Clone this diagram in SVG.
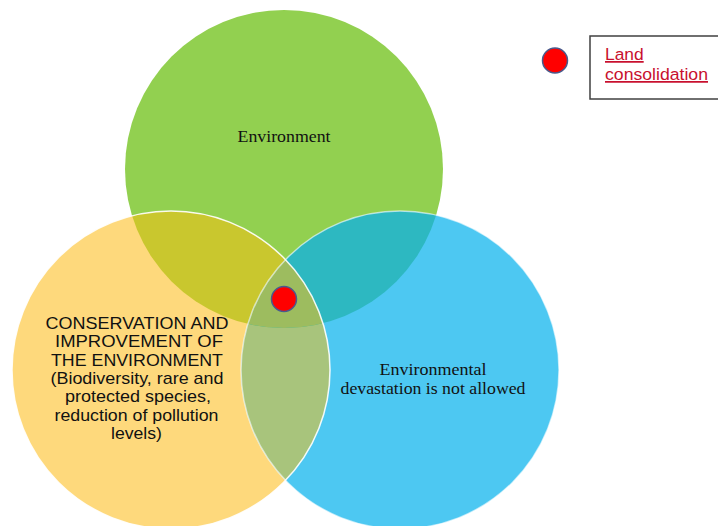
<svg xmlns="http://www.w3.org/2000/svg" width="718" height="526" viewBox="0 0 718 526">
<style>
.serif{font-family:"Liberation Serif","Times New Roman",serif;font-size:17px;fill:#111;text-anchor:middle}
.sans{font-family:"Liberation Sans",Arial,sans-serif;font-size:16.2px;fill:#111;text-anchor:middle}
.edge{fill:none;stroke:#fff;stroke-width:1.5}
.dot{fill:#ff0000;stroke:#4a5a8c;stroke-width:1.5}
.link{font-family:"Liberation Sans",Arial,sans-serif;font-size:17.4px;fill:#c8102e;text-decoration:underline}
</style>
<defs>
<circle id="cG" cx="284" cy="169" r="159"/>
<circle id="cY" cx="171" cy="370" r="159"/>
<circle id="cB" cx="400" cy="370" r="159"/>
<clipPath id="clipG"><use href="#cG"/></clipPath>
<clipPath id="clipY"><use href="#cY"/></clipPath>
<clipPath id="clipB"><use href="#cB"/></clipPath>
</defs>
<rect width="718" height="526" fill="#fff"/>
<g id="node-environment">
<use href="#cG" fill="#92d050"/>
</g>
<g id="node-conservation">
<use href="#cY" fill="#fed97c"/>
</g>
<g id="node-devastation">
<use href="#cB" fill="#4dc8f2"/>
</g>
<g id="overlaps">
<use href="#cY" fill="#a8c47c" clip-path="url(#clipB)"/>
<use href="#cY" fill="#c9c72e" clip-path="url(#clipG)"/>
<use href="#cB" fill="#2db8c1" clip-path="url(#clipG)"/>
<g clip-path="url(#clipG)"><use href="#cY" fill="#9dbc5f" clip-path="url(#clipB)"/></g>
</g>
<g id="outlines">
<use href="#cB" class="edge" opacity="0.6"/>
<use href="#cY" class="edge" opacity="0.9"/>
</g>
<g id="labels">
<text class="serif" x="284" y="142" textLength="93" lengthAdjust="spacingAndGlyphs">Environment</text>
<text class="serif" x="433" y="374.5" textLength="107" lengthAdjust="spacingAndGlyphs">Environmental</text>
<text class="serif" x="433" y="393.5" textLength="185" lengthAdjust="spacingAndGlyphs">devastation is not allowed</text>
<text class="sans" x="137" y="329" textLength="183" lengthAdjust="spacingAndGlyphs">CONSERVATION AND</text>
<text class="sans" x="139" y="347.3" textLength="168" lengthAdjust="spacingAndGlyphs">IMPROVEMENT OF</text>
<text class="sans" x="137" y="365.6" textLength="172" lengthAdjust="spacingAndGlyphs">THE ENVIRONMENT</text>
<text class="sans" x="137" y="383.9" textLength="173" lengthAdjust="spacingAndGlyphs">(Biodiversity, rare and</text>
<text class="sans" x="138" y="402.2" textLength="146" lengthAdjust="spacingAndGlyphs">protected species,</text>
<text class="sans" x="136.5" y="420.5" textLength="164" lengthAdjust="spacingAndGlyphs">reduction of pollution</text>
<text class="sans" x="136.5" y="438.8" textLength="51" lengthAdjust="spacingAndGlyphs">levels)</text>
</g>
<g id="node-land-consolidation-marker">
<circle class="dot" cx="284" cy="299" r="12.5"/>
</g>
<g id="legend">
<circle class="dot" cx="555" cy="60.5" r="12.5"/>
<rect x="590" y="36" width="135" height="63" fill="#fff" stroke="#404040" stroke-width="1.5"/>
<text class="link" x="605" y="60">Land</text>
<text class="link" x="605" y="80" textLength="103" lengthAdjust="spacingAndGlyphs">consolidation</text>
</g>
<g id="connectors"/>
</svg>
